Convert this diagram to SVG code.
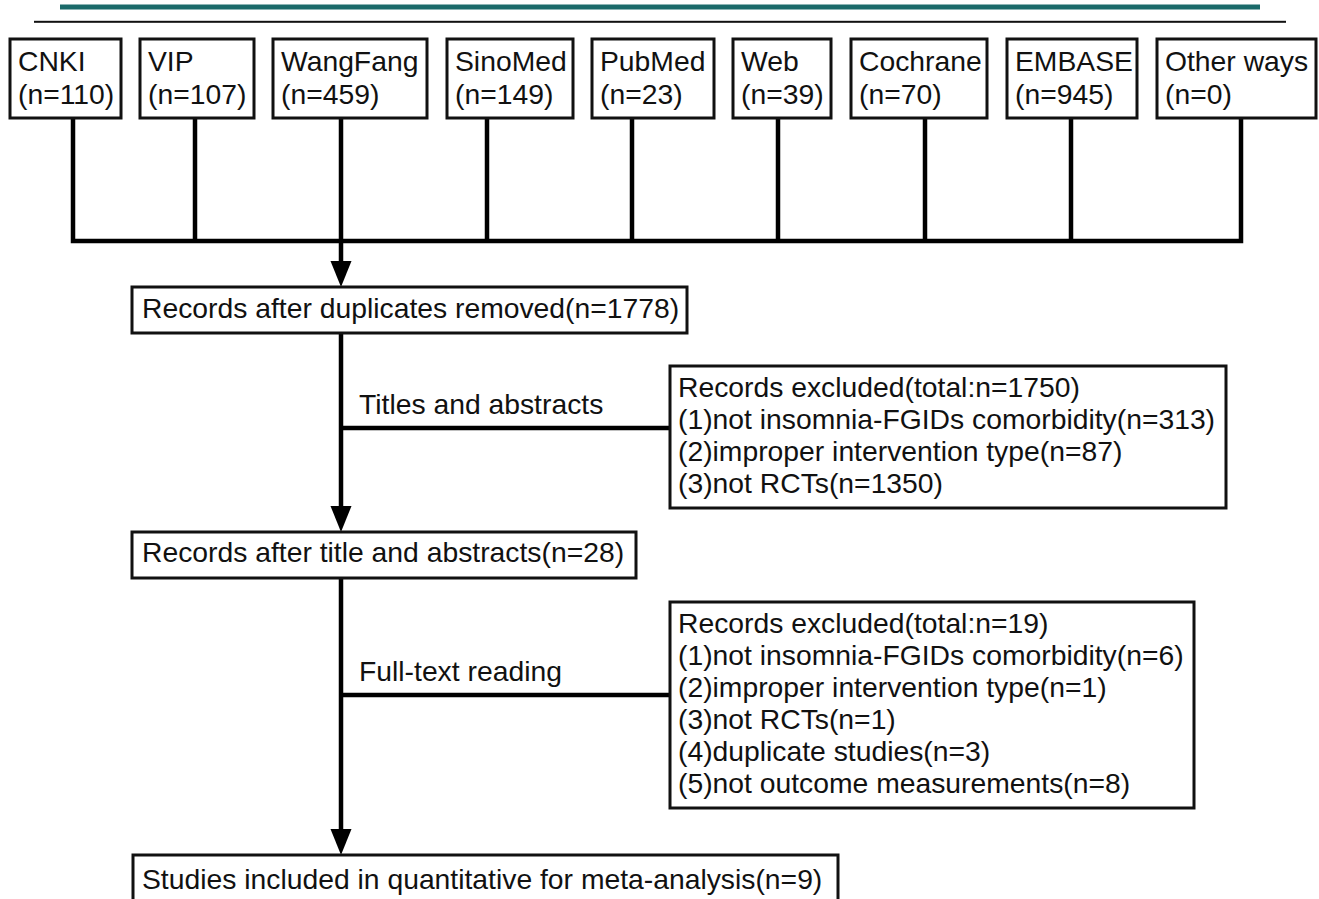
<svg xmlns="http://www.w3.org/2000/svg" width="1319" height="899" viewBox="0 0 1319 899">
<style>
  text { font-family: "Liberation Sans", Arial, sans-serif; font-size: 28.3px; fill: #111; }
  .box { fill: #fff; stroke: #111; stroke-width: 3; }
  .conn { fill: none; stroke: #000; stroke-width: 4.5; stroke-linejoin: miter; stroke-linecap: butt; }
  .arrow { fill: #000; stroke: none; }
</style>
<rect x="60" y="4.5" width="1200" height="5" fill="#1b6a6a"/>
<rect x="34" y="20.8" width="1252" height="2" fill="#111"/>

<g id="connectors">
  <path class="conn" d="M73,118 V241 H1241 V118"/>
  <path class="conn" d="M195,118 V241"/>
  <path class="conn" d="M341,118 V262"/>
  <path class="conn" d="M487,118 V241"/>
  <path class="conn" d="M632,118 V241"/>
  <path class="conn" d="M778,118 V241"/>
  <path class="conn" d="M925,118 V241"/>
  <path class="conn" d="M1071,118 V241"/>
  <polygon class="arrow" points="330.5,261 351.5,261 341,287"/>
  <path class="conn" d="M341,333 V507"/>
  <path class="conn" d="M341,428 H670"/>
  <polygon class="arrow" points="330.5,506 351.5,506 341,532"/>
  <path class="conn" d="M341,578 V830"/>
  <path class="conn" d="M341,695 H670"/>
  <polygon class="arrow" points="330.5,829 351.5,829 341,855"/>
  <text x="359" y="414">Titles and abstracts</text>
  <text x="359" y="681">Full-text reading</text>
</g>

<g id="cnki"><rect class="box" x="10" y="39" width="111" height="79"/><text x="18" y="71">CNKI</text><text x="18" y="104">(n=110)</text></g>
<g id="vip"><rect class="box" x="140" y="39" width="114" height="79"/><text x="148" y="71">VIP</text><text x="148" y="104">(n=107)</text></g>
<g id="wangfang"><rect class="box" x="273" y="39" width="154" height="79"/><text x="281" y="71">WangFang</text><text x="281" y="104">(n=459)</text></g>
<g id="sinomed"><rect class="box" x="447" y="39" width="126" height="79"/><text x="455" y="71">SinoMed</text><text x="455" y="104">(n=149)</text></g>
<g id="pubmed"><rect class="box" x="592" y="39" width="122" height="79"/><text x="600" y="71">PubMed</text><text x="600" y="104">(n=23)</text></g>
<g id="web"><rect class="box" x="733" y="39" width="98" height="79"/><text x="741" y="71">Web</text><text x="741" y="104">(n=39)</text></g>
<g id="cochrane"><rect class="box" x="851" y="39" width="136" height="79"/><text x="859" y="71">Cochrane</text><text x="859" y="104">(n=70)</text></g>
<g id="embase"><rect class="box" x="1007" y="39" width="130" height="79"/><text x="1015" y="71">EMBASE</text><text x="1015" y="104">(n=945)</text></g>
<g id="other"><rect class="box" x="1157" y="39" width="159" height="79"/><text x="1165" y="71">Other ways</text><text x="1165" y="104">(n=0)</text></g>

<g id="dedup"><rect class="box" x="132" y="287" width="555" height="46"/><text x="142" y="318">Records after duplicates removed(n=1778)</text></g>
<g id="excluded1"><rect class="box" x="670" y="366" width="556" height="142"/>
  <text x="678" y="397">Records excluded(total:n=1750)</text>
  <text x="678" y="429">(1)not insomnia-FGIDs comorbidity(n=313)</text>
  <text x="678" y="461">(2)improper intervention type(n=87)</text>
  <text x="678" y="493">(3)not RCTs(n=1350)</text>
</g>
<g id="screened"><rect class="box" x="132" y="532" width="504" height="46"/><text x="142" y="562">Records after title and abstracts(n=28)</text></g>
<g id="excluded2"><rect class="box" x="670" y="602" width="524" height="206"/>
  <text x="678" y="633">Records excluded(total:n=19)</text>
  <text x="678" y="665">(1)not insomnia-FGIDs comorbidity(n=6)</text>
  <text x="678" y="697">(2)improper intervention type(n=1)</text>
  <text x="678" y="729">(3)not RCTs(n=1)</text>
  <text x="678" y="761">(4)duplicate studies(n=3)</text>
  <text x="678" y="793">(5)not outcome measurements(n=8)</text>
</g>
<g id="included"><rect class="box" x="133" y="855" width="705" height="52"/><text x="142" y="889">Studies included in quantitative for meta-analysis(n=9)</text></g>
</svg>
